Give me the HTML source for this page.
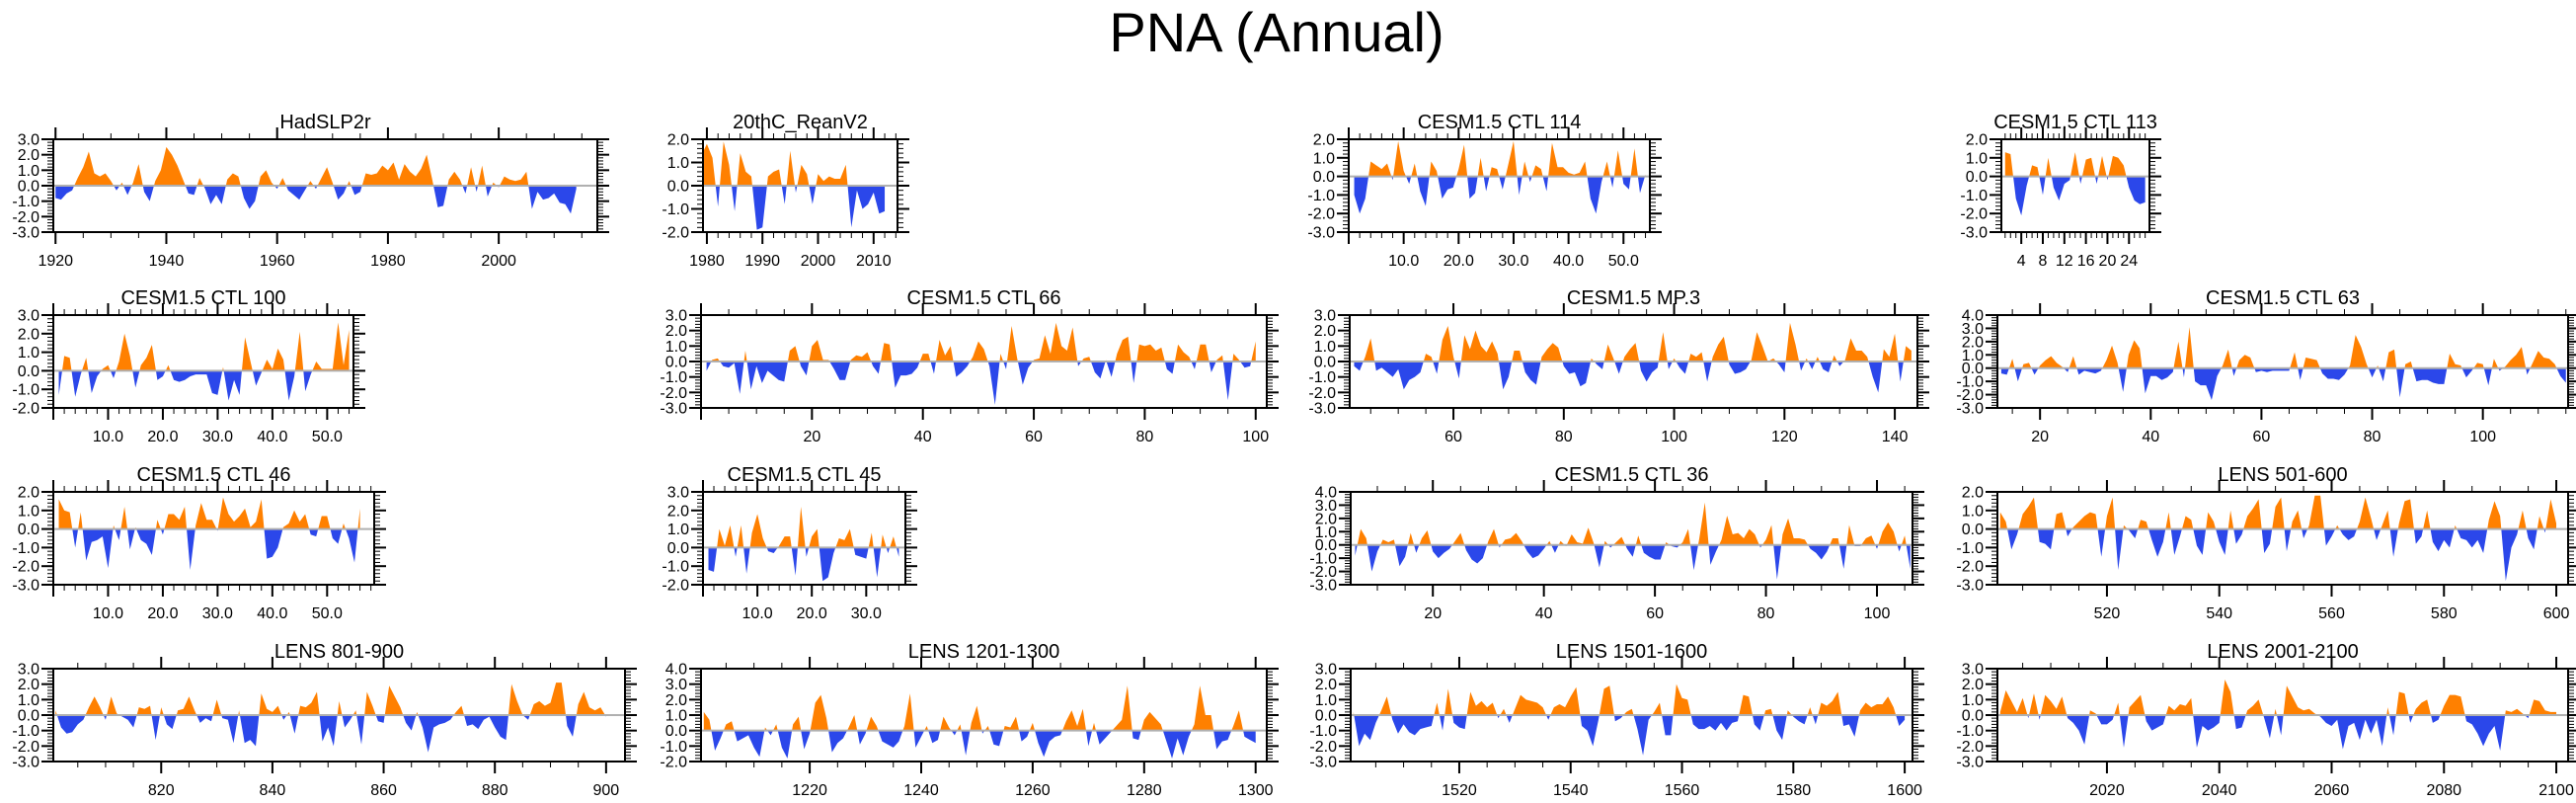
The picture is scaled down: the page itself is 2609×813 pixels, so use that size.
<!DOCTYPE html>
<html><head><meta charset="utf-8">
<style>
html,body{margin:0;padding:0;background:#fff;}
svg{display:block;}
text{font-family:"Liberation Sans",sans-serif;fill:#000;}
</style></head>
<body>
<svg id="chart" width="2609" height="813" viewBox="0 0 2609 813" xmlns="http://www.w3.org/2000/svg">
<rect x="0" y="0" width="2609" height="813" fill="#fff"/>
<text x="1293" y="52" font-size="56" text-anchor="middle">PNA (Annual)</text>
</svg>
<script>
// ---- data (PNA index values) ----
const titles = ["HadSLP2r","20thC_ReanV2","CESM1.5 CTL 114","CESM1.5 CTL 113","CESM1.5 CTL 100","CESM1.5 CTL 66","CESM1.5 MP.3","CESM1.5 CTL 63","CESM1.5 CTL 46","CESM1.5 CTL 45","CESM1.5 CTL 36","LENS 501-600","LENS 801-900","LENS 1201-1300","LENS 1501-1600","LENS 2001-2100"];
const startX = [1920,1979,1,1,1,1,42,13,1,1,6,501,801,1201,1501,2001];
const hadslp = [-0.8,-0.9,-0.5,-0.3,0.5,1.2,2.2,0.8,0.6,0.8,0.3,-0.3,0.2,-0.6,0.2,1.4,-0.4,-1.0,0.3,1.0,2.5,2.0,1.3,0.4,-0.5,-0.6,0.5,-0.2,-1.2,-0.6,-1.2,0.4,0.8,0.6,-0.8,-1.5,-1.0,0.6,1.0,0.2,-0.2,0.5,-0.3,-0.6,-0.9,-0.3,0.3,-0.2,0.5,1.2,0.2,-0.9,-0.5,0.3,-0.6,-0.4,0.8,0.7,0.8,1.3,1.0,1.5,0.4,1.4,0.9,0.6,1.1,2.0,0.4,-1.4,-1.3,0.4,0.9,0.4,-0.5,1.2,-0.4,1.3,-0.7,0.2,-0.1,0.6,0.4,0.3,0.4,0.9,-1.5,-0.4,-0.9,-0.8,-0.5,-1.1,-1.2,-1.8,-0.2];
const reanv2 = [1.3,1.8,1.2,-0.9,1.9,0.9,-1.1,1.4,0.6,0.4,-1.9,-1.8,0.4,0.6,0.7,-0.8,1.5,-0.3,0.9,0.5,-0.8,0.5,0.2,0.4,0.3,0.3,0.9,-1.8,-0.2,-1.0,-0.8,-0.3,-1.2,-1.1];
const ctl114 = [-1.0,-2.0,-1.2,0.8,0.6,0.4,0.7,-0.2,1.9,0.3,-0.4,0.7,-0.8,-1.6,0.8,0.3,-1.2,-0.7,-0.6,0.4,1.7,-1.2,-0.9,1.0,-0.8,0.5,0.4,-0.7,0.6,1.9,-1.0,0.8,-0.3,0.6,0.4,-0.8,1.8,0.5,0.5,0.2,0.1,0.2,0.8,-1.2,-2.0,-0.3,0.8,-0.6,1.4,-0.4,-0.7,1.5,-0.9,0.1];
const ctl113 = [1.3,1.2,-1.2,-2.1,-0.5,0.6,0.5,-1.0,1.0,-0.6,-1.3,-0.4,-0.2,1.3,-0.4,0.9,1.0,-0.4,1.1,-0.2,1.1,1.0,0.6,-0.6,-1.3,-1.5,-1.4];
const ctl100 = [-1.3,0.8,0.7,-1.4,-0.2,0.7,-1.2,-0.3,0.1,0.3,-0.4,0.5,2.0,0.8,-0.9,0.3,0.7,1.4,-0.5,-0.3,0.3,-0.5,-0.6,-0.5,-0.3,-0.2,-0.2,-0.2,-1.2,-1.3,0.2,-1.6,-0.5,-1.3,1.8,0.5,-0.8,-0.1,0.6,0.1,1.2,0.6,-1.6,-0.3,2.1,-1.1,-0.2,0.5,0.1,0.1,0.1,2.6,0.3,2.2];
const ctl66 = [-0.6,0.1,0.2,-0.3,-0.4,-0.1,-2.1,0.7,-1.8,-0.3,-1.4,-0.6,-0.9,-1.2,-1.3,0.7,1.0,-0.3,-0.9,1.0,1.4,0.1,0.1,-0.5,-1.2,-1.2,0.1,0.4,0.3,0.6,-0.3,-0.8,1.2,1.1,-1.7,-0.9,-0.9,-0.8,-0.4,0.5,0.5,-0.8,1.4,0.4,1.0,-1.0,-0.7,-0.3,0.3,1.3,0.8,-0.3,-2.8,0.5,-0.5,2.3,0.2,-1.5,-0.4,0.1,0.2,1.7,0.5,2.5,1.0,0.7,2.2,-0.3,0.2,0.3,-0.7,-1.1,0.1,-1.0,0.5,1.4,1.6,-1.4,1.1,1.0,1.1,0.7,0.9,-0.5,-0.8,1.1,0.6,0.3,-0.5,1.1,1.1,-0.7,0.1,0.4,-2.5,0.5,0.1,-0.4,-0.3,1.3];
const mp3 = [-0.3,-0.6,0.3,1.5,-0.6,-0.4,-0.7,-1.0,-0.5,-1.8,-1.2,-1.0,-0.7,0.5,0.3,-0.8,1.4,2.3,0.3,-1.1,1.7,0.8,2.0,1.0,0.6,1.3,0.5,-1.8,-1.0,0.7,0.7,-0.7,-1.2,-1.5,0.3,0.8,1.2,0.9,-0.3,-0.8,-0.7,-1.6,-1.4,0.2,-0.2,-0.5,1.1,0.2,-0.8,0.3,0.8,1.2,-0.6,-1.3,-0.7,-0.4,1.9,-0.5,0.2,-0.4,-0.8,0.5,0.3,0.6,-1.3,0.3,1.1,1.6,-0.2,-0.8,-0.7,-0.5,0.1,1.9,1.0,0.0,0.2,-0.2,-0.7,2.5,1.1,-0.6,0.2,-0.5,0.3,-0.5,-0.7,0.4,-0.3,0.1,1.5,0.7,0.7,0.3,-1.0,-2.0,0.8,0.3,1.8,-1.3,1.0,0.7];
const ctl63 = [-0.4,-0.5,0.7,-1.0,0.3,0.4,-0.5,0.2,0.6,0.9,0.4,0.1,-0.3,0.9,-0.5,-0.2,-0.3,-0.4,-0.2,0.6,1.7,0.4,-1.8,1.0,2.1,1.5,-1.9,-0.6,-0.6,-0.9,-0.7,-0.3,2.0,-0.7,3.1,-1.0,-1.3,-1.3,-2.4,-0.6,0.2,1.4,-0.6,0.6,1.0,0.8,-0.3,-0.2,-0.3,-0.2,-0.2,-0.2,-0.2,1.2,-0.9,0.8,0.7,0.6,-0.4,-0.8,-0.8,-0.9,-0.5,0.2,2.5,1.6,0.3,-0.7,0.2,-1.0,1.2,1.4,-2.2,0.3,0.5,-1.0,-0.9,-0.9,-1.1,-1.2,-1.2,1.1,0.3,0.2,-0.7,-0.2,0.4,0.3,-1.3,0.7,-0.2,0.1,0.6,1.0,1.6,-0.5,0.4,1.3,0.8,0.7,0.3,-0.6,-1.1];
const ctl46 = [1.6,1.0,0.9,-1.0,0.9,-1.7,-0.7,-0.6,-0.4,-2.1,0.2,-0.6,1.2,-1.1,0.1,-0.6,-0.8,-1.4,0.5,-0.3,0.8,0.8,0.5,1.2,-2.2,0.2,1.4,0.5,0.5,-0.1,1.7,0.8,0.4,0.7,1.1,0.1,0.4,1.6,-1.6,-1.5,-1.0,0.1,0.3,1.0,0.4,0.8,-0.3,-0.4,0.7,0.7,-0.5,-0.8,0.3,-0.5,-1.8,1.1];
const ctl45 = [-1.2,-1.3,1.0,0.1,1.2,-0.5,1.2,-1.4,0.8,1.8,0.5,-0.2,-0.3,0.1,0.6,0.6,-1.5,2.2,-0.5,0.6,1.0,-1.8,-1.6,-0.3,0.5,0.4,1.0,-0.4,-0.5,-0.6,0.8,-1.6,0.7,-0.3,0.6,-0.5];
const ctl36 = [-0.8,1.2,0.5,-2.0,-0.5,0.4,0.2,0.4,-1.6,-0.9,0.9,-0.6,0.5,1.1,-0.5,-1.0,-0.6,-0.3,0.3,0.9,-0.4,-1.1,-1.4,-1.0,0.3,1.2,-0.2,0.4,0.5,0.9,0.3,-0.5,-1.0,-0.8,-0.3,0.3,-0.6,0.3,-0.1,0.8,0.2,0.1,1.3,0.1,-1.7,0.3,-0.2,0.2,0.6,-0.3,-0.9,0.7,-0.6,-0.9,-1.1,-1.1,0.2,-0.1,-0.2,0.2,1.2,-1.9,0.5,3.2,-1.5,-0.5,0.4,2.2,0.8,0.9,0.5,1.2,0.8,-0.2,0.4,1.5,-2.6,0.8,2.0,0.5,0.5,0.4,-0.3,-0.6,-1.1,-0.5,0.5,0.5,-1.8,1.5,-0.1,-0.1,0.5,0.7,-0.3,1.0,1.7,1.0,-0.5,0.7,-1.8];
const lens501 = [0.9,0.4,-1.1,-0.3,0.8,1.2,1.7,-0.7,-0.8,-1.1,0.8,0.9,-0.4,0.1,0.4,0.7,0.9,0.8,-1.5,0.7,1.7,-2.2,0.2,-0.1,-0.5,0.5,0.4,-0.6,-1.5,-0.7,0.9,-1.4,-0.4,0.7,0.5,-0.9,-1.4,0.9,0.4,-0.7,-1.4,1.0,-0.8,-0.3,0.7,1.1,1.6,-1.3,-0.8,1.2,1.7,-1.2,0.4,1.0,-0.5,0.2,1.8,1.8,-0.9,-0.4,0.2,-0.3,-0.6,-0.4,0.4,1.7,0.6,-0.6,0.2,1.0,-1.5,0.3,1.5,1.6,-0.8,-0.4,1.0,-0.7,-1.2,-0.6,-1.0,0.2,-0.5,-0.6,-1.0,-0.6,-1.3,0.5,1.5,0.7,-2.8,-1.0,-0.3,1.0,-0.5,-1.1,0.7,-0.2,1.6,0.3];
const lens801 = [0.3,-0.8,-1.2,-1.1,-0.6,-0.3,0.5,1.2,0.5,-0.3,1.2,0.1,-0.1,-0.3,-0.8,0.5,0.4,0.6,-1.6,0.5,-0.6,-0.9,0.3,0.4,1.2,0.3,-0.5,-0.2,-0.4,1.0,-0.2,-0.3,-1.8,0.3,-1.8,-1.6,-2.0,1.4,0.4,0.2,0.6,-0.3,0.2,-1.2,0.6,0.5,0.8,1.5,-1.7,-0.8,-2.0,0.9,-0.8,-0.3,0.3,-1.9,1.5,0.6,-0.4,-0.5,1.9,1.2,0.5,-0.5,-1.0,0.2,-0.8,-2.4,-0.8,-0.6,-0.5,-0.3,0.2,0.6,-0.7,-0.6,-0.9,-0.3,-0.1,-0.8,-1.4,-1.6,2.0,0.9,0.0,-0.3,0.7,0.9,0.6,0.8,2.1,2.1,-0.7,-1.4,0.7,1.5,0.5,0.3,0.5,-0.1];
const lens1201 = [1.2,0.7,-1.3,-0.5,0.4,0.6,-0.7,-0.5,-0.3,-1.1,-1.7,0.2,-0.3,0.4,-1.1,-1.8,0.4,0.9,-1.2,-0.2,1.8,2.3,0.8,-1.4,-0.8,-0.5,0.2,1.0,-0.9,-0.2,0.9,0.3,-0.7,-0.9,-1.1,-0.7,0.3,2.4,-1.1,-0.4,0.3,-0.8,-0.6,0.9,0.2,-0.3,0.4,-1.6,0.5,1.6,-0.2,0.3,-0.9,-1.0,0.3,0.2,0.9,-0.7,-0.4,0.5,-0.8,-1.7,-0.7,-0.4,-0.3,0.6,1.3,0.3,1.4,-1.0,0.5,-0.9,-0.5,-0.1,0.3,0.7,2.9,-0.5,-0.6,0.7,1.2,0.8,0.4,-0.7,-1.8,-0.5,-1.6,-0.4,0.4,2.9,1.0,1.0,-1.2,-0.7,-0.6,0.3,1.3,-0.4,-0.6,-0.8];
const lens1501 = [0.2,-2.0,-1.2,-1.6,-0.5,0.3,1.2,-0.3,-1.2,-0.6,-1.1,-1.3,-0.9,-0.8,-0.7,0.8,-1.0,1.7,-0.5,-0.8,-0.9,1.5,0.6,0.9,0.5,0.8,-0.2,0.4,-0.5,0.4,1.3,1.0,0.9,0.8,0.5,-0.3,0.5,0.7,0.5,1.2,1.8,-0.7,-1.0,-2.0,-0.3,1.7,1.9,-0.4,-0.2,0.2,0.4,-0.9,-2.6,-0.3,0.2,0.8,-1.3,-1.3,2.0,1.1,1.0,-0.6,-0.9,-0.9,-0.7,-1.0,-0.5,-1.0,-0.5,-0.4,1.3,1.2,-0.6,-1.0,0.3,0.4,-1.0,-1.6,0.3,-0.1,-0.4,-0.6,0.5,-0.6,0.8,0.6,0.9,1.5,-0.7,-0.6,-1.4,0.3,0.8,0.5,0.7,0.7,1.2,0.5,-0.7,-0.3];
const lens2001 = [0.2,1.6,0.9,0.2,1.1,-0.2,1.4,-0.3,1.3,0.9,0.4,1.2,-0.2,-0.5,-1.0,-1.9,0.3,0.1,-0.6,-0.6,-0.3,0.8,-2.1,0.5,0.9,1.3,-0.4,-1.0,-0.8,-0.6,0.6,0.3,0.7,0.6,1.1,-2.1,-0.7,-1.0,-0.8,-0.5,2.3,1.5,-0.9,-0.8,0.3,0.6,1.0,-0.2,-1.5,0.4,-1.3,1.9,1.2,0.5,0.3,0.4,0.1,-0.1,-0.5,-0.7,-0.3,-2.2,-0.7,-0.5,-1.6,-0.3,-1.2,-0.3,-2.0,0.5,-1.3,1.5,1.4,-0.5,0.4,0.8,1.0,-0.5,-0.3,0.6,1.3,1.3,1.2,-0.4,-0.6,-1.2,-2.0,-1.2,-0.7,-2.3,0.3,0.2,0.4,0.1,-0.2,1.0,0.9,0.3,0.2,0.2];
const series = [hadslp,reanv2,ctl114,ctl113,ctl100,ctl66,mp3,ctl63,ctl46,ctl45,ctl36,lens501,lens801,lens1201,lens1501,lens2001];
const yMin = [-3,-2,-3,-3,-2,-3,-3,-3,-3,-2,-3,-3,-3,-2,-3,-3];
const yMax = [3,2,2,2,3,3,3,4,2,3,4,2,3,4,3,3];
const xMin = [1919.6,1979.3,0,0.3,0,0,41.2,12.3,0,0,5.2,500.5,800.6,1200.5,1500.5,2000.5];
const xMax = [2017.8,2014.3,54.8,27.8,54.8,102,144.1,115.4,58.6,37.2,106.4,602.1,903.4,1302,1601.4,2102.1];
const xMajor = [20,10,10,4,10,20,20,20,10,10,20,20,20,20,20,20];
const xMinor = [5,2,2,1,2,5,5,5,2,2,5,5,5,5,5,5];
const xDec = [0,0,1,0,1,0,0,0,1,1,0,0,0,0,0,0];

// ---- layout (pixels) ----
const boxL = [54,712,1366,2027,54,710,1367,2023,54,712,1368,2023,54,710,1368,2023];
const boxR = [605,909,1671,2177,358,1283,1942,2601,379,917,1937,2601,633,1283,1937,2601];
const rowTop = [141,319,498,677];
const plotH = 94;

const svg = document.getElementById('chart');
const NS = 'http://www.w3.org/2000/svg';
function mk(tag, attrs, parent){
  const e = document.createElementNS(NS, tag);
  for (const k in attrs) e.setAttribute(k, attrs[k]);
  (parent||svg).appendChild(e);
  return e;
}
const defs = mk('defs', {});

for (let p = 0; p < series.length; p++) {
  const L = boxL[p], R = boxR[p], T = rowTop[Math.floor(p/4)], B = T + plotH;
  const xs = v => L + (v - xMin[p]) / (xMax[p] - xMin[p]) * (R - L);
  const ys = v => B - (v - yMin[p]) / (yMax[p] - yMin[p]) * (B - T);
  const cp = mk('clipPath', {id:'clip'+p}, defs);
  mk('rect', {x:L, y:T, width:R-L, height:B-T}, cp);
  const g = mk('g', {});
  
  

  const t = mk('text', {x:(L+R)/2, y:T-11, 'font-size':20, 'text-anchor':'middle'}, g);
  t.textContent = titles[p];
  
  

  const d = series[p], x0 = startX[p];
  const pts = [];
  for (let i = 0; i < d.length; i++) {
    if (i > 0 && ((d[i-1] > 0 && d[i] < 0) || (d[i-1] < 0 && d[i] > 0))) {
      const f = d[i-1] / (d[i-1] - d[i]);
      pts.push([x0 + i - 1 + f, 0]);
    }
    pts.push([x0 + i, d[i]]);
  }
  const z = ys(0);
  let pos = 'M' + xs(pts[0][0]) + ' ' + z;
  let neg = pos;
  for (const q of pts) {
    pos += ' L' + xs(q[0]).toFixed(2) + ' ' + ys(Math.max(q[1],0)).toFixed(2);
    neg += ' L' + xs(q[0]).toFixed(2) + ' ' + ys(Math.min(q[1],0)).toFixed(2);
  }
  const last = xs(pts[pts.length-1][0]);
  pos += ' L' + last + ' ' + z + ' Z';
  neg += ' L' + last + ' ' + z + ' Z';
  const dg = mk('g', {'clip-path':'url(#clip'+p+')'}, g);
  const pa = mk('path', {d:pos, fill:'#ff8000'}, dg);
  
  
  const na = mk('path', {d:neg, fill:'#2b47ea'}, dg);
  
  
  const zl = mk('line', {x1:L, x2:R, y1:z, y2:z, stroke:'#b0b0b0', 'stroke-width':2}, g);
  
  

  for (let k = Math.round(yMin[p]*5); k <= Math.round(yMax[p]*5); k++) {
    const v = k/5, y = ys(v), major = (k % 5 === 0), len = major ? 12 : 6;
    mk('line', {x1:L-len, x2:L, y1:y, y2:y, stroke:'#000', 'stroke-width':major?2:1}, g);
    mk('line', {x1:R, x2:R+len, y1:y, y2:y, stroke:'#000', 'stroke-width':major?2:1}, g);
    if (major) {
      const yl = mk('text', {x:L-14, y:y+5.5, 'font-size':16, 'text-anchor':'end'}, g);
      yl.textContent = v.toFixed(1);
      
      
    }
  }
  const mn = xMinor[p];
  for (let v = Math.ceil(xMin[p]/mn)*mn; v <= xMax[p]; v += mn) {
    const x = xs(v), major = (Math.abs(v/xMajor[p] - Math.round(v/xMajor[p])) < 1e-6), len = major ? 12 : 6;
    mk('line', {x1:x, x2:x, y1:B, y2:B+len, stroke:'#000', 'stroke-width':major?2:1}, g);
    mk('line', {x1:x, x2:x, y1:T-len, y2:T, stroke:'#000', 'stroke-width':major?2:1}, g);
    if (major && v > 0) {
      const xl = mk('text', {x:x, y:B+34, 'font-size':16, 'text-anchor':'middle'}, g);
      xl.textContent = xDec[p] ? v.toFixed(1) : String(v);
      
      
    }
  }
  const fr = mk('rect', {x:L, y:T, width:R-L, height:B-T, fill:'none', stroke:'#000', 'stroke-width':2}, g);
  
  
}
</script>
</body></html>
